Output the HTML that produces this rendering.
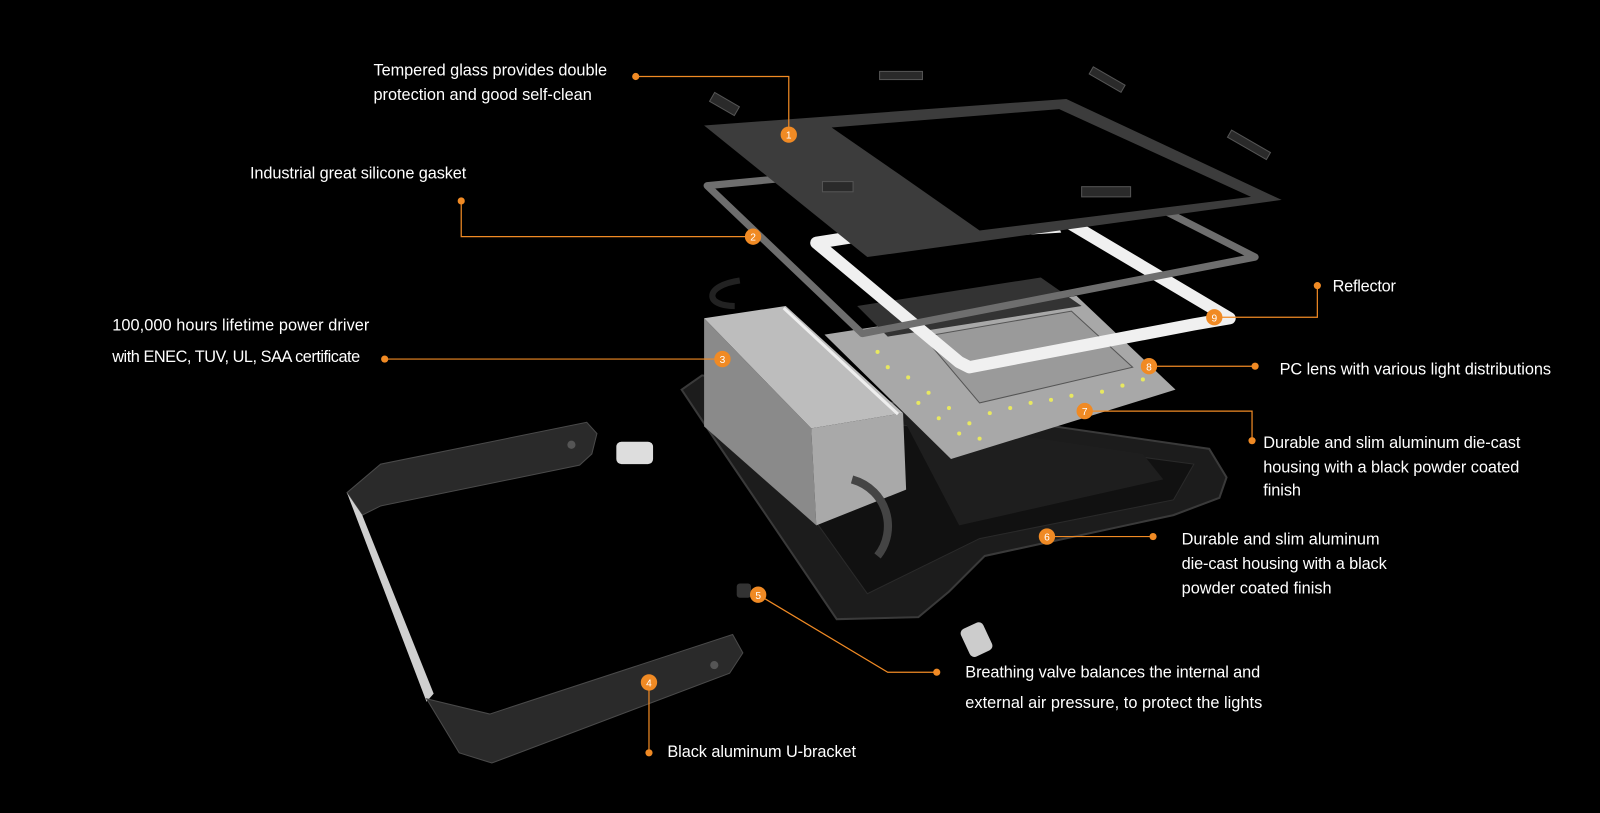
<!DOCTYPE html>
<html><head><meta charset="utf-8"><style>
html,body{margin:0;padding:0;background:#000;}
svg{display:block}
text{font-family:"Liberation Sans Narrow","Liberation Sans",sans-serif;fill:#fff;font-size:16px}
.n{font-family:"Liberation Sans",sans-serif;font-size:10px;fill:#fff;text-anchor:middle}
</style></head><body>
<svg width="1600" height="813" viewBox="0 0 1568 797" preserveAspectRatio="none" xmlns="http://www.w3.org/2000/svg">
<rect x="-10" y="-10" width="1600" height="830" fill="#000"/>
<!-- housing -->
<polygon points="668,382 688,368 1185,440 1202,468 1195,488 1150,505 965,545 930,580 900,605 820,607 700,430" fill="#1c1c1c" stroke="#3a3a3a" stroke-width="2"/>
<polygon points="700,392 1170,455 1150,490 960,528 850,582 770,470" fill="#111" stroke="#2a2a2a"/>
<polygon points="885,410 1120,445 1140,470 940,515" fill="#1e1e1e"/>
<!-- LED board -->
<polygon points="808,328 1055,290 1152,382 932,450" fill="#a8a8a8"/>
<g fill="#e8e860">
<circle cx="870" cy="360" r="2"/><circle cx="890" cy="370" r="2"/><circle cx="910" cy="385" r="2"/><circle cx="930" cy="400" r="2"/><circle cx="950" cy="415" r="2"/><circle cx="970" cy="405" r="2"/><circle cx="990" cy="400" r="2"/><circle cx="1010" cy="395" r="2"/><circle cx="1030" cy="392" r="2"/><circle cx="1050" cy="388" r="2"/><circle cx="1080" cy="384" r="2"/><circle cx="1100" cy="378" r="2"/><circle cx="1120" cy="372" r="2"/><circle cx="940" cy="425" r="2"/><circle cx="960" cy="430" r="2"/><circle cx="860" cy="345" r="2"/><circle cx="900" cy="395" r="2"/><circle cx="920" cy="410" r="2"/>
</g>
<polygon points="905,330 1050,305 1110,360 960,395" fill="#9a9a9a" stroke="#555"/>
<polygon points="840,300 1020,272 1060,300 870,330" fill="#333"/>
<!-- reflector -->
<polygon points="800,238 965,212 1030,208 1205,312 1170,318 950,360 940,355" fill="none" stroke="#f0f0f0" stroke-width="12" stroke-linejoin="round"/>
<polygon points="958,215 1030,206 1040,228 975,232" fill="#eee"/>
<!-- driver box -->
<polygon points="690,312 770,300 885,405 795,420" fill="#bdbdbd"/>
<polygon points="690,312 795,420 800,515 690,418" fill="#8a8a8a"/>
<polygon points="795,420 885,405 888,480 800,515" fill="#a9a9a9"/>
<line x1="768" y1="302" x2="880" y2="406" stroke="#eee" stroke-width="3"/>
<path d="M720,300 C690,300 690,280 725,275" stroke="#222" stroke-width="6" fill="none"/>
<path d="M835,470 C870,480 880,520 860,545" stroke="#444" stroke-width="8" fill="none"/>
<!-- gasket -->
<polygon points="693,182 1030,150 1230,252 845,327" fill="none" stroke="#6e6e6e" stroke-width="7" stroke-linejoin="round"/>
<!-- glass/frame -->
<polygon points="690,123 1045,97 1256,196 850,252" fill="#3c3c3c"/>
<polygon points="815,125 1038,107 1226,193 960,226 880,170" fill="#000"/>
<!-- clips -->
<g fill="#2a2a2a" stroke="#555">
<rect x="862" y="70" width="42" height="8"/><rect x="1067" y="74" width="36" height="8" transform="rotate(30 1085 78)"/><rect x="1202" y="138" width="44" height="8" transform="rotate(30 1224 142)"/><rect x="696" y="97" width="28" height="10" transform="rotate(30 710 102)"/><rect x="806" y="178" width="30" height="10"/><rect x="1060" y="183" width="48" height="10"/>
</g>
<!-- bracket -->
<polygon points="340,483 373,455 575,414 585,425 580,445 568,456 373,496 355,505" fill="#2a2a2a" stroke="#4a4a4a"/>
<polygon points="340,483 355,505 425,680 418,688" fill="#cfcfcf"/>
<polygon points="418,685 480,700 718,622 728,640 715,660 482,748 450,738" fill="#2a2a2a" stroke="#4a4a4a"/>
<circle cx="560" cy="436" r="4" fill="#555"/><circle cx="700" cy="652" r="4" fill="#555"/>
<!-- small parts -->
<rect x="604" y="433" width="36" height="22" rx="5" fill="#ddd"/>
<rect x="722" y="572" width="14" height="14" rx="3" fill="#333"/>
<rect x="945" y="612" width="24" height="30" rx="5" fill="#ccc" transform="rotate(-25 957 627)"/>
<!-- connectors -->
<g stroke="#f08a24" stroke-width="1.2" fill="none">
<polyline points="623,75 773,75 773,132"/>
<polyline points="452,197 452,232 738,232"/>
<polyline points="377,352 708,352"/>
<polyline points="636,738 636,669"/>
<polyline points="743,583 870,659 918,659"/>
<polyline points="1026,526 1130,526"/>
<polyline points="1063,403 1227,403 1227,432"/>
<polyline points="1126,359 1230,359"/>
<polyline points="1190,311 1291,311 1291,280"/>
</g>
<g fill="#f08a24">
<circle cx="623" cy="75" r="3.5"/><circle cx="452" cy="197" r="3.5"/><circle cx="377" cy="352" r="3.5"/><circle cx="636" cy="738" r="3.5"/><circle cx="918" cy="659" r="3.5"/><circle cx="1130" cy="526" r="3.5"/><circle cx="1227" cy="432" r="3.5"/><circle cx="1230" cy="359" r="3.5"/><circle cx="1291" cy="280" r="3.5"/>
<circle cx="773" cy="132" r="8"/><circle cx="738" cy="232" r="8"/><circle cx="708" cy="352" r="8"/><circle cx="636" cy="669" r="8"/><circle cx="743" cy="583" r="8"/><circle cx="1026" cy="526" r="8"/><circle cx="1063" cy="403" r="8"/><circle cx="1126" cy="359" r="8"/><circle cx="1190" cy="311" r="8"/>
</g>
<text class="n" x="773" y="136">1</text><text class="n" x="738" y="236">2</text><text class="n" x="708" y="356">3</text><text class="n" x="636" y="673">4</text><text class="n" x="743" y="587">5</text><text class="n" x="1026" y="530">6</text><text class="n" x="1063" y="407">7</text><text class="n" x="1126" y="363">8</text><text class="n" x="1190" y="315">9</text>
<!-- labels -->
<text x="366" y="74" textLength="229">Tempered glass provides double</text>
<text x="366" y="98" textLength="214">protection and good self-clean</text>
<text x="245" y="175" textLength="212">Industrial great silicone gasket</text>
<text x="110" y="324" textLength="252">100,000 hours lifetime power driver</text>
<text x="110" y="355" textLength="243">with ENEC, TUV, UL, SAA certificate</text>
<text x="1306" y="286" textLength="62">Reflector</text>
<text x="1254" y="367" textLength="266">PC lens with various light distributions</text>
<text x="1238" y="439" textLength="252">Durable and slim aluminum die-cast</text>
<text x="1238" y="463" textLength="251">housing with a black powder coated</text>
<text x="1238" y="486" textLength="37">finish</text>
<text x="1158" y="534" textLength="194">Durable and slim aluminum</text>
<text x="1158" y="558" textLength="201">die-cast housing with a black</text>
<text x="1158" y="582" textLength="147">powder coated finish</text>
<text x="946" y="664" textLength="289">Breathing valve balances the internal and</text>
<text x="946" y="694" textLength="291">external air pressure, to protect the lights</text>
<text x="654" y="742" textLength="185">Black aluminum U-bracket</text>
</svg>
</body></html>
